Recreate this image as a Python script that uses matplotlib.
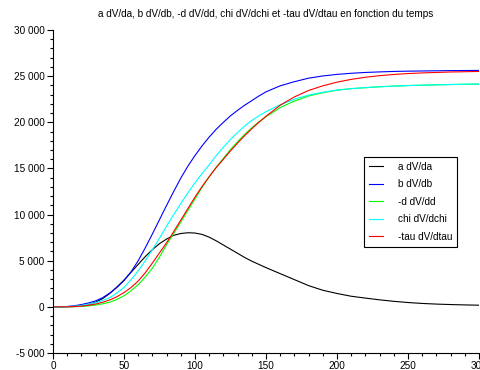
import matplotlib
matplotlib.use("Agg")
import matplotlib.pyplot as plt
from matplotlib.ticker import MultipleLocator, FuncFormatter

plt.rcParams['font.family'] = ['Liberation Sans', 'DejaVu Sans']

t = [0, 5, 10, 15, 20, 25, 30, 35, 40, 45, 50, 55, 60, 65, 70, 75, 80, 85, 90,
     95, 100, 105, 110, 115, 120, 125, 130, 135, 140, 145, 150,
     160, 170, 180, 190, 200, 210, 220, 230, 240, 250, 260, 270, 280, 290, 300]

a_dVda = [0, 0, 10, 40, 100, 250, 500, 900, 1450, 2150, 2900, 3750, 4600, 5450,
          6200, 6850, 7350, 7750, 7950, 8030, 8000, 7850, 7550, 7150, 6700, 6250,
          5800, 5350, 4950, 4600, 4250,
          3600, 2950, 2300, 1800, 1450, 1150, 950, 760, 600, 470, 370, 300, 250, 210, 180]
b_dVdb = [0, 10, 40, 120, 250, 420, 650, 1000, 1500, 2100, 2850, 3800, 5000, 6400,
          7900, 9450, 11000, 12500, 13950, 15250, 16400, 17450, 18400, 19250, 20000,
          20700, 21300, 21850, 22350, 22850, 23300,
          23950, 24400, 24780, 25020, 25190, 25310, 25400, 25460, 25510, 25540,
          25560, 25580, 25600, 25610, 25620]
d_dVdd = [0, 0, 5, 20, 50, 110, 200, 330, 500, 800, 1200, 1750, 2400, 3250, 4200,
          5400, 6750, 7950, 9200, 10450, 11700, 12950, 14100, 15150, 16100, 17050,
          17900, 18700, 19400, 20050, 20600,
          21600, 22300, 22850, 23200, 23480, 23640, 23750, 23850, 23920, 23980,
          24020, 24060, 24090, 24120, 24150]
chi_dVdchi = [0, 5, 20, 70, 150, 280, 450, 700, 1000, 1500, 2100, 2950, 3900, 5000,
              6200, 7450, 8750, 10000, 11200, 12350, 13450, 14450, 15400, 16400,
              17300, 18150, 18900, 19600, 20200, 20700, 21150,
              21900, 22500, 22950, 23250, 23500, 23650, 23760, 23850, 23920, 23980,
              24020, 24060, 24090, 24120, 24150]
tau_dVdtau = [0, 2, 10, 35, 80, 170, 300, 500, 750, 1100, 1550, 2100, 2800, 3700,
              4750, 5850, 6950, 8150, 9400, 10650, 11900, 13050, 14100, 15100, 16000,
              16900, 17750, 18550, 19300, 20000, 20650,
              21850, 22750, 23450, 23950, 24350, 24650, 24880, 25050, 25180, 25280,
              25350, 25400, 25450, 25480, 25510]

labels = ["a dV/da", "b dV/db", "-d dV/dd", "chi dV/dchi", "-tau dV/dtau"]
title = "a dV/da, b dV/db, -d dV/dd, chi dV/dchi et -tau dV/dtau en fonction du temps"

FS = 7.2

fig = plt.figure(figsize=(4.8, 3.7), dpi=100)
ax = fig.add_axes([53/480, 17/370, 426/480, 323/370])

series = [a_dVda, b_dVdb, d_dVdd, chi_dVdchi, tau_dVdtau]
colors = ["#000000", "#0000ff", "#00ff00", "#00ffff", "#ff0000"]
for s, c, lab in zip(series, colors, labels):
    ax.plot(t, s, color=c, lw=0.8, label=lab)

ax.set_xlim(0, 300)
ax.set_ylim(-5000, 30000)
ax.xaxis.set_major_locator(MultipleLocator(50))
ax.xaxis.set_minor_locator(MultipleLocator(10))
ax.yaxis.set_major_locator(MultipleLocator(5000))
ax.yaxis.set_minor_locator(MultipleLocator(1000))
ax.yaxis.set_major_formatter(FuncFormatter(lambda v, p: f"{int(round(v)):,}".replace(",", " ")))
ax.tick_params(which='major', direction='out', length=4, width=0.8, labelsize=FS, pad=2)
ax.tick_params(which='minor', direction='out', length=2, width=0.8)
for side in ['top', 'right']:
    ax.spines[side].set_visible(False)
for side in ['left', 'bottom']:
    ax.spines[side].set_linewidth(0.8)

fig.text(266/480, 1 - 14/370, title, ha='center', va='center', fontsize=FS)

leg = ax.legend(loc='upper left', bbox_to_anchor=(0.730, 0.607), fontsize=FS,
                frameon=True, fancybox=False, edgecolor='black', framealpha=1,
                handlelength=1.4, borderpad=0.5, labelspacing=0.75,
                handletextpad=1.5, borderaxespad=0)
leg.get_frame().set_linewidth(0.8)

fig.savefig("out.png", dpi=100)
